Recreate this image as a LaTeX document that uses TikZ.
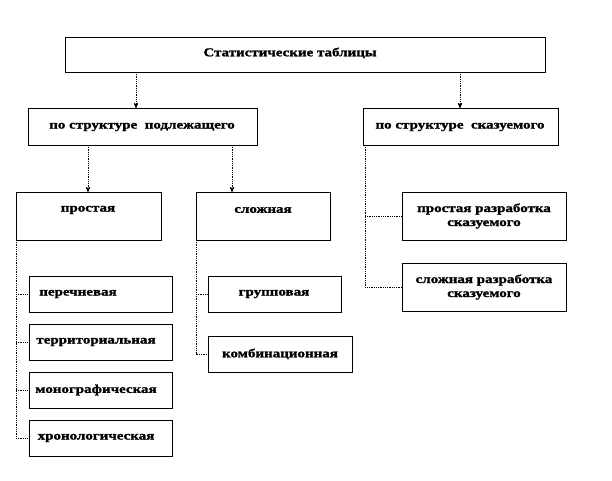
\documentclass[tikz,border=0pt]{standalone}
\usepackage{fontspec}
\setmainfont{Liberation Serif}[FakeStretch=1.25,FakeBold=1.5]
\usetikzlibrary{arrows,positioning}
\begin{document}
\begin{tikzpicture}[x=1pt,y=-1pt,>=stealth',font=\bfseries\fontsize{12}{14}\selectfont,
  box/.style={draw,semithick,rectangle},
  link/.style={->,densely dotted,thick},
  branch/.style={densely dotted,thick}]
  \useasboundingbox (0,0) rectangle (612,480);
  % boxes
  \draw[box] (65,37) rectangle (545,72);
  \node (T) at (290,53) {Статистические таблицы};
  \draw[box] (28,108) rectangle (257,145);
  \node (P) at (142,127) {по структуре \ подлежащего};
  \draw[box] (363,108) rectangle (558,145);
  \node (S) at (460,127) {по структуре \ сказуемого};
  \draw[box] (16,192) rectangle (161,240);
  \node (A) at (88,210) {простая};
  \draw[box] (196,192) rectangle (330,240);
  \node (B) at (263,210) {сложная};
  \draw[box] (402,192) rectangle (566,240);
  \node[align=center] (S1) at (484,216) {простая разработка\\сказуемого};
  \draw[box] (402,263) rectangle (566,311);
  \node[align=center] (S2) at (484,287) {сложная разработка\\сказуемого};
  \draw[box] (29,276) rectangle (172,312);
  \node (A1) at (78,294) {перечневая};
  \draw[box] (29,324) rectangle (172,360);
  \node (A2) at (96,342) {территориальная};
  \draw[box] (29,372) rectangle (172,408);
  \node (A3) at (96,390) {монографическая};
  \draw[box] (29,420) rectangle (172,456);
  \node (A4) at (96,438) {хронологическая};
  \draw[box] (208,276) rectangle (341,312);
  \node (B1) at (274,294) {групповая};
  \draw[box] (208,336) rectangle (352,372);
  \node (B2) at (280,354) {комбинационная};
  % connectors
  \draw[link] (136,72) -- (136,108);
  \draw[link] (460,72) -- (460,108);
  \draw[link] (88,145) -- (88,192);
  \draw[link] (232,145) -- (232,192);
  \draw[branch] (16,240) -- (16,438) -- (29,438);
  \foreach \y in {294,342,390} \draw[branch] (16,\y) -- (29,\y);
  \draw[branch] (196,240) -- (196,354) -- (208,354);
  \draw[branch] (196,294) -- (208,294);
  \draw[branch] (365,145) -- (365,287) -- (402,287);
  \draw[branch] (365,216) -- (402,216);
\end{tikzpicture}
\end{document}
